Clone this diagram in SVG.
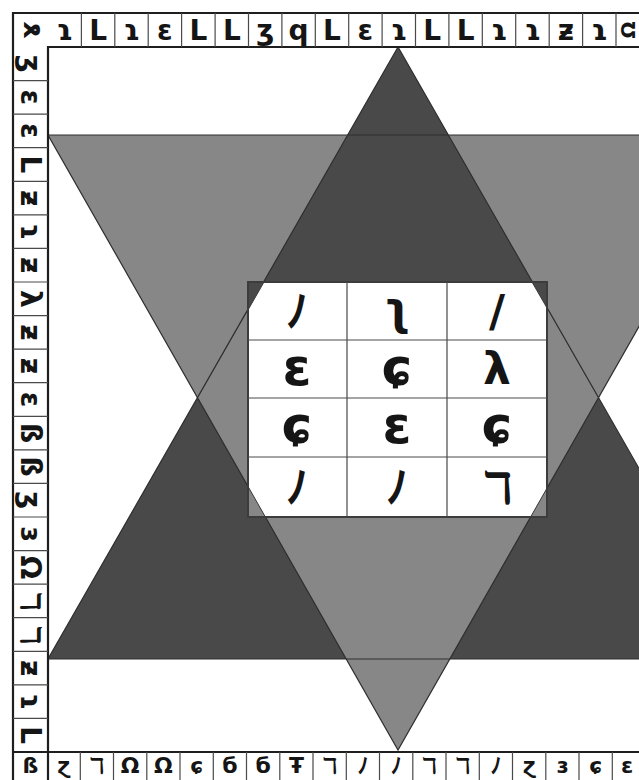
<svg xmlns="http://www.w3.org/2000/svg" width="639" height="780" viewBox="0 0 639 780">
<style>
.g{font-family:"DejaVu Sans","Noto Sans CJK JP",sans-serif;font-weight:bold;fill:#151515;text-anchor:middle;dominant-baseline:central}
.b{font-size:28px}
.s{font-size:22px}
.t{font-size:44px}
.x{font-size:52px}
.frame{stroke:#1e1e1e;stroke-width:2.2;fill:none}
.div{stroke:#4a4a4a;stroke-width:1.2;fill:none}
.edge{stroke:#2e2e2e;stroke-width:1.2;fill:none}
</style>
<rect width="639" height="780" fill="#fff"/>
<g id="hexagram">
<polygon points="48,135 748,135 398,750" fill="#878787"/>
<polygon points="398,47 48,659 748,659" fill="#494949"/>
<polygon points="264,282 197.6,397.9 346.2,659 449.8,659 598.4,397.9 532,282" fill="#878787"/>
<polygon class="edge" points="48,135 748,135 398,750"/>
<polygon class="edge" points="398,47 48,659 748,659"/>
</g>
<g id="table">
<polygon points="248,282 264,282 248,310" fill="#494949"/>
<polygon points="532,282 547,282 547,308" fill="#494949"/>
<polygon points="248,486.4 248,517 265.4,517" fill="#878787"/>
<polygon points="547,488.2 547,517 530.6,517" fill="#878787"/>
<polygon points="264,282 532,282 547,308 547,488.2 530.6,517 265.4,517 248,486.4 248,310" fill="#fff" stroke="#3a3a3a" stroke-width="1"/>
<rect x="248" y="282" width="299" height="235" fill="none" stroke="#3c3c3c" stroke-width="2"/>
<path class="div" d="M347,282V517M447,282V517M248,340H547M248,398H547M248,457H547"/>
<text class="g t" x="297" y="311">ﾉ</text>
<text class="g t" x="397" y="309">ʅ</text>
<text class="g t" x="497" y="311">/</text>
<text class="g x" x="297" y="367">ε</text>
<text class="g x" x="397" y="367">ɕ</text>
<text class="g t" x="497" y="368">λ</text>
<text class="g x" x="297" y="425">ɕ</text>
<text class="g x" x="397" y="425">ε</text>
<text class="g x" x="497" y="425">ɕ</text>
<text class="g t" x="297" y="487">ﾉ</text>
<text class="g t" x="397" y="487">ﾉ</text>
<text class="g t" x="497" y="487">ℸ</text>
</g>
<g id="border">
<path fill="#fff" d="M13,13H639V47H48V752H639V780H13Z"/>
<path class="frame" d="M13,780V13H639M48,780V47H639M13,752H639"/>
<path class="div" d="M81.4,13V47M114.8,13V47M148.2,13V47M181.6,13V47M215.1,13V47M248.5,13V47M281.9,13V47M315.3,13V47M348.7,13V47M382.1,13V47M415.5,13V47M448.9,13V47M482.3,13V47M515.7,13V47M549.2,13V47M582.6,13V47M616,13V47"/>
<path class="div" d="M13,80.6H48M13,114.1H48M13,147.7H48M13,181.3H48M13,214.9H48M13,248.4H48M13,282H48M13,315.6H48M13,349.1H48M13,382.7H48M13,416.3H48M13,449.9H48M13,483.4H48M13,517H48M13,550.6H48M13,584.1H48M13,617.7H48M13,651.3H48M13,684.9H48M13,718.4H48"/>
<path class="div" d="M80.3,752V780M113.5,752V780M146.8,752V780M180,752V780M213.3,752V780M246.5,752V780M279.8,752V780M313,752V780M346.3,752V780M379.5,752V780M412.8,752V780M446,752V780M479.3,752V780M512.5,752V780M545.8,752V780M579,752V780M612.3,752V780"/>
<g id="top-row">
<text class="g b" transform="rotate(-90 30.5 30)" x="30.5" y="30">ɤ</text>
<text class="g b" x="64.7" y="30">ɿ</text>
<text class="g b" x="98.1" y="30">L</text>
<text class="g b" x="131.5" y="30">ɿ</text>
<text class="g b" x="164.9" y="30">ɛ</text>
<text class="g b" x="198.3" y="30">L</text>
<text class="g b" x="231.8" y="30">L</text>
<text class="g b" x="265.2" y="30">ʒ</text>
<text class="g b" x="298.6" y="30">q</text>
<text class="g b" x="332" y="30">L</text>
<text class="g b" x="365.4" y="30">ɛ</text>
<text class="g b" x="398.8" y="30">ɿ</text>
<text class="g b" x="432.2" y="30">L</text>
<text class="g b" x="465.6" y="30">L</text>
<text class="g b" x="499" y="30">ɿ</text>
<text class="g b" x="532.5" y="30">ɿ</text>
<text class="g b" x="565.9" y="30">ƶ</text>
<text class="g b" x="599.3" y="30">ɿ</text>
<text class="g" style="font-size:20px" transform="rotate(-90 628 30)" x="628" y="30">Ω</text>
</g>
<g id="left-column">
<text class="g b" transform="rotate(90 30.5 63.8)" x="30.5" y="63.8">ʒ</text>
<text class="g b" transform="rotate(90 30.5 97.4)" x="30.5" y="97.4">ɛ</text>
<text class="g b" transform="rotate(90 30.5 130.9)" x="30.5" y="130.9">ɛ</text>
<text class="g b" transform="rotate(90 30.5 164.5)" x="30.5" y="164.5">L</text>
<text class="g b" transform="rotate(90 30.5 198.1)" x="30.5" y="198.1">ƶ</text>
<text class="g b" transform="rotate(90 30.5 231.7)" x="30.5" y="231.7">ɿ</text>
<text class="g b" transform="rotate(90 30.5 265.2)" x="30.5" y="265.2">ƶ</text>
<text class="g b" transform="rotate(90 30.5 298.8)" x="30.5" y="298.8">λ</text>
<text class="g b" transform="rotate(90 30.5 332.4)" x="30.5" y="332.4">ƶ</text>
<text class="g b" transform="rotate(90 30.5 365.9)" x="30.5" y="365.9">ƶ</text>
<text class="g b" transform="rotate(90 30.5 399.5)" x="30.5" y="399.5">ɛ</text>
<text class="g b" transform="rotate(90 30.5 433.1)" x="30.5" y="433.1">ß</text>
<text class="g b" transform="rotate(90 30.5 466.7)" x="30.5" y="466.7">ß</text>
<text class="g b" transform="rotate(90 30.5 500.2)" x="30.5" y="500.2">ʒ</text>
<text class="g b" transform="rotate(90 30.5 533.8)" x="30.5" y="533.8">ɜ</text>
<text class="g b" transform="rotate(90 30.5 567.4)" x="30.5" y="567.4">Ω</text>
<text class="g b" transform="rotate(90 30.5 600.9)" x="30.5" y="600.9">ℸ</text>
<text class="g b" transform="rotate(90 30.5 634.5)" x="30.5" y="634.5">ℸ</text>
<text class="g b" transform="rotate(90 30.5 668.1)" x="30.5" y="668.1">ƶ</text>
<text class="g b" transform="rotate(90 30.5 701.7)" x="30.5" y="701.7">ɿ</text>
<text class="g b" transform="rotate(90 30.5 735.2)" x="30.5" y="735.2">L</text>
</g>
<g id="bottom-row">
<text class="g s" x="30.5" y="765">ß</text>
<text class="g s" x="63.7" y="765">ɀ</text>
<text class="g s" x="96.9" y="765">ℸ</text>
<text class="g s" x="130.2" y="765">Ω</text>
<text class="g s" x="163.4" y="765">Ω</text>
<text class="g s" x="196.7" y="765">ɕ</text>
<text class="g s" x="229.9" y="765">б</text>
<text class="g s" x="263.2" y="765">б</text>
<text class="g s" x="296.4" y="765">Ŧ</text>
<text class="g s" x="329.7" y="765">ℸ</text>
<text class="g s" x="362.9" y="765">ﾉ</text>
<text class="g s" x="396.2" y="765">ﾉ</text>
<text class="g s" x="429.4" y="765">ℸ</text>
<text class="g s" x="462.7" y="765">ℸ</text>
<text class="g s" x="495.9" y="765">ﾉ</text>
<text class="g s" x="529.2" y="765">ɀ</text>
<text class="g s" x="562.4" y="765">ɜ</text>
<text class="g s" x="595.7" y="765">ɕ</text>
<text class="g s" x="627" y="765">ε</text>
</g>
</g>
</svg>
